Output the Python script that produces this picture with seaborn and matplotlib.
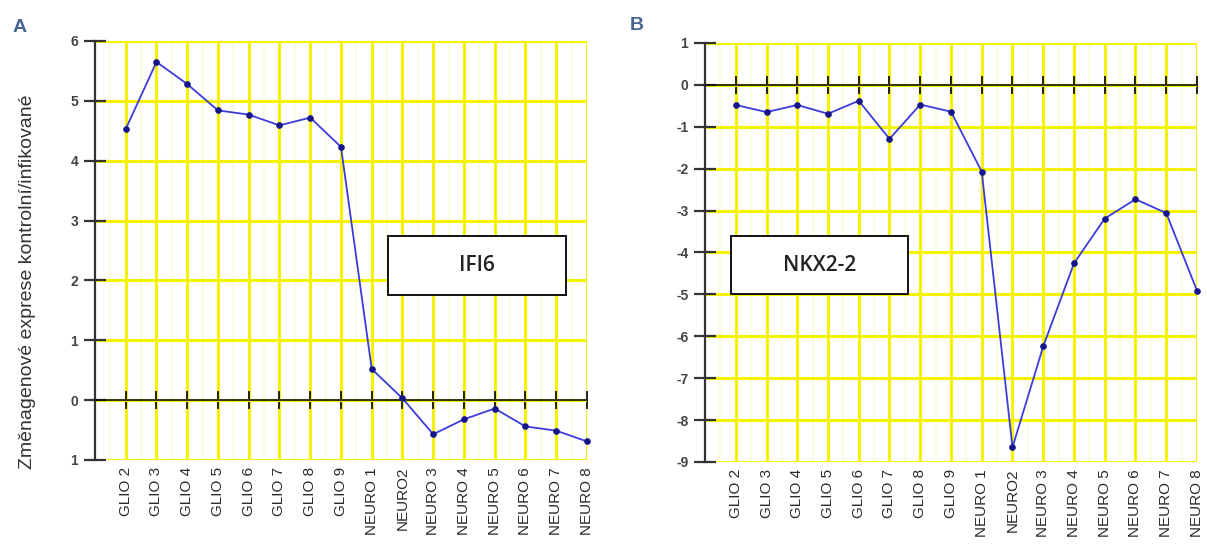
import matplotlib
matplotlib.use("Agg")
import matplotlib.pyplot as plt
import seaborn as sns
import pandas as pd
import numpy as np
from matplotlib.patches import Rectangle

categories = ["GLIO 2", "GLIO 3", "GLIO 4", "GLIO 5", "GLIO 6", "GLIO 7", "GLIO 8", "GLIO 9",
              "NEURO 1", "NEURO2", "NEURO 3", "NEURO 4", "NEURO 5", "NEURO 6", "NEURO 7", "NEURO 8"]
ifi6 = [4.53, 5.65, 5.28, 4.84, 4.77, 4.59, 4.72, 4.23, 0.52, 0.03, -0.57, -0.32, -0.14, -0.44, -0.51, -0.69]
nkx22 = [-0.48, -0.65, -0.48, -0.69, -0.38, -1.29, -0.47, -0.64, -2.07, -8.65, -6.24, -4.26, -3.19, -2.73, -3.06, -4.91]
ifi6_yticks = [-1, 0, 1, 2, 3, 4, 5, 6]
ifi6_yticklabels = ["1", "0", "1", "2", "3", "4", "5", "6"]
nkx_yticks = [-9, -8, -7, -6, -5, -4, -3, -2, -1, 0, 1]
nkx_yticklabels = ["-9", "-8", "-7", "-6", "-5", "-4", "-3", "-2", "-1", "0", "1"]
ylabel_text = "Změnagenové exprese kontrolní/infikované"

sns.set_style("white")
plt.rcParams["font.family"] = ["Liberation Sans", "DejaVu Sans"]
plt.rcParams["axes.unicode_minus"] = False

YEL = "#f4f400"
YEL_MINOR = "#fbfbdc"
LINE = "#3c3cdc"
MK = "#16168a"

fig = plt.figure(figsize=(12.07, 5.48), dpi=100)
axA = fig.add_axes([0.0787, 0.1606, 0.4076, 0.7646])
axB = fig.add_axes([0.5841, 0.1570, 0.4076, 0.7646])


def panel(ax, values, yticks, ylabels, gene, box):
    n = len(categories)
    df = pd.DataFrame({"pos": np.arange(n), "val": values})
    sns.lineplot(data=df, x="pos", y="val", ax=ax, sort=False, color=LINE, lw=1.3,
                 marker="o", markersize=4, markerfacecolor=MK, markeredgecolor=MK,
                 zorder=5, clip_on=False)
    ax.set_xlim(-1, n - 1)
    ax.set_ylim(min(yticks), max(yticks))
    ax.set_xticks(np.arange(n))
    ax.set_xticks(np.arange(n) - 0.5, minor=True)
    ax.set_yticks(yticks)
    ax.set_yticklabels(ylabels, fontweight="bold")
    ax.set_axisbelow(True)
    ax.grid(True, which="major", color=YEL, lw=2.2)
    ax.grid(True, which="minor", axis="x", color=YEL_MINOR, lw=1.3)
    for s in ("top", "right"):
        ax.spines[s].set_visible(False)
    ax.spines["left"].set_color("#333333")
    ax.spines["left"].set_linewidth(1.6)
    ax.spines["left"].set_zorder(4)
    ax.spines["bottom"].set_position(("data", 0))
    ax.spines["bottom"].set_color("#111111")
    ax.spines["bottom"].set_linewidth(1.2)
    ax.spines["bottom"].set_zorder(4)
    ax.tick_params(axis="x", which="major", direction="inout", length=13, width=1.3,
                   color="#111111", labelbottom=False, bottom=True)
    ax.tick_params(axis="x", which="minor", length=0)
    ax.tick_params(axis="y", direction="inout", length=16, width=1.6, color="#333333",
                   labelsize=10, labelcolor="#444444", pad=4, left=True)
    ax.set_xlabel("")
    ax.set_ylabel("")
    sec = ax.secondary_xaxis("bottom")
    sec.set_xticks(np.arange(n), labels=categories, rotation=90)
    sec.tick_params(length=0, pad=5, labelsize=11, labelcolor="#2a2a2a")
    sec.spines["bottom"].set_visible(False)
    x0, y0, x1, y1 = box
    ax.add_patch(Rectangle((x0, y0), x1 - x0, y1 - y0, transform=ax.transAxes,
                           facecolor="white", edgecolor="#111111", lw=1.4, zorder=6))
    ax.text((x0 + x1) / 2, (y0 + y1) / 2, gene, transform=ax.transAxes, ha="center", va="center",
            fontsize=15, family=["Open Sans", "DejaVu Sans"], fontweight="semibold",
            color="#222222", zorder=7)


panel(axA, ifi6, ifi6_yticks, ifi6_yticklabels, "IFI6", (0.5955, 0.394, 0.957, 0.535))
panel(axB, nkx22, nkx_yticks, nkx_yticklabels, "NKX2-2", (0.053, 0.401, 0.4126, 0.539))

fig.text(20 / 1207, 1 - 27 / 548, "A", ha="center", va="center", fontsize=14,
         fontweight="bold", color="#4a6492")
fig.text(637 / 1207, 1 - 25 / 548, "B", ha="center", va="center", fontsize=14,
         fontweight="bold", color="#4a6492")
fig.text(28 / 1207, 1 - 282 / 548, ylabel_text, rotation=90, ha="center", va="center",
         fontsize=14, color="#333333")

fig.savefig("out.png", dpi=100)
